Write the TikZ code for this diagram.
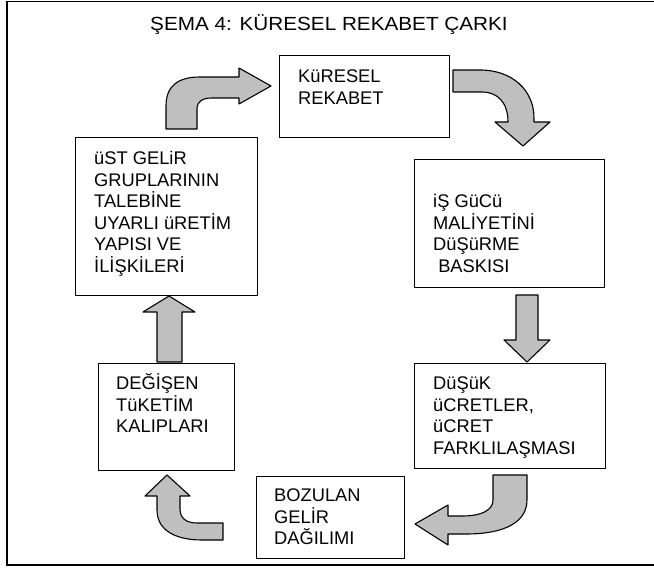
\documentclass[tikz,border=0pt]{standalone}
\usepackage{fontspec}
\setmainfont{Liberation Sans}
\begin{document}
\begin{tikzpicture}[x=1pt,y=-1pt,
  boxst/.style={draw=black, line width=1.2pt, fill=white, inner sep=0pt, anchor=north west},
  txt/.style={font=\fontsize{18.3}{21.5}\selectfont, inner sep=0pt, anchor=base west},
  blockarrow/.style={draw=black, line width=1.1pt, fill=black!25, line join=round}]
\useasboundingbox (0,0) rectangle (654,569);
\begin{scope}
\clip (0,0) rectangle (654,569);
\draw[line width=1.4pt] (670,1.5) -- (7,1.5) -- (7,565) -- (670,565);
\end{scope}

\node[font=\fontsize{19}{22}\selectfont, inner sep=0pt, anchor=base, xscale=1.09] (title) at (329,31) {ŞEMA 4: KÜRESEL REKABET ÇARKI};

% boxes
\node[boxst, minimum width=170pt, minimum height=82pt] (kr) at (279,55) {};
\node[boxst, minimum width=182pt, minimum height=158pt] (ust) at (75,137) {};
\node[boxst, minimum width=190pt, minimum height=128pt] (is) at (414,159) {};
\node[boxst, minimum width=191pt, minimum height=105pt] (dus) at (414,363) {};
\node[boxst, minimum width=148pt, minimum height=82pt] (boz) at (256,476) {};
\node[boxst, minimum width=136pt, minimum height=107pt] (deg) at (98,363) {};

% texts
\node[txt] (krt) at (298,83) {\vtop{\hbox{KüRESEL}\hbox{REKABET}}};
\node[txt] (ustt) at (94,165) {\vtop{\hbox{üST GELiR}\hbox{GRUPLARININ}\hbox{TALEBİNE}\hbox{UYARLI üRETİM}\hbox{YAPISI VE}\hbox{İLİŞKİLERİ}}};
\node[txt] (ist) at (433,208) {\vtop{\hbox{iŞ GüCü}\hbox{MALİYETİNİ}\hbox{DüŞüRME}\hbox{\ BASKISI}}};
\node[txt] (dust) at (433,390) {\vtop{\hbox{DüŞüK}\hbox{üCRETLER,}\hbox{üCRET}\hbox{FARKLILAŞMASI}}};
\node[txt] (bozt) at (274,502) {\vtop{\hbox{BOZULAN}\hbox{GELİR}\hbox{DAĞILIMI}}};
\node[txt] (degt) at (116,390) {\vtop{\hbox{DEĞİŞEN}\hbox{TüKETİM}\hbox{KALIPLARI}}};

% block arrows
% top-left: ust -> kr
\draw[blockarrow] (166,129) -- (166,106) .. controls (166,86) and (178,77) .. (200,77) -- (239,77) -- (239,68) -- (271,86) -- (239,104) -- (239,98) -- (212,98) .. controls (203,98) and (197,101) .. (197,109) -- (197,129) -- cycle;
% top-right: kr -> is
\draw[blockarrow] (453,70) -- (480,70) .. controls (512,70) and (534,90) .. (534,118) -- (534,122) -- (550,122) -- (523,146) -- (495,122) -- (508,122) .. controls (508,103) and (498,92) .. (482,92) -- (453,92) -- cycle;
% down: is -> dus
\draw[blockarrow] (516,295) -- (538,295) -- (538,340) -- (550,340) -- (527,362) -- (504,340) -- (516,340) -- cycle;
% bottom-right: dus -> boz
\draw[blockarrow] (493,475) -- (493,500) .. controls (493,510) and (482,516) .. (462,516) -- (448,516) -- (448,505) -- (415,524) -- (448,545) -- (448,534) -- (466,534) .. controls (505,534) and (527,522) .. (527,500) -- (527,475) -- cycle;
% bottom-left: boz -> deg
\draw[blockarrow] (223,523) -- (223,540) -- (202,540) .. controls (175,540) and (157,530) .. (157,510) -- (157,496) -- (145,496) -- (167,475) -- (190,496) -- (180,496) -- (180,509) .. controls (180,518) and (186,523) .. (197,523) -- cycle;
% up: deg -> ust
\draw[blockarrow] (157,362) -- (157,312) -- (143,312) -- (169,296) -- (195,312) -- (182,312) -- (182,362) -- cycle;
\end{tikzpicture}
\end{document}
